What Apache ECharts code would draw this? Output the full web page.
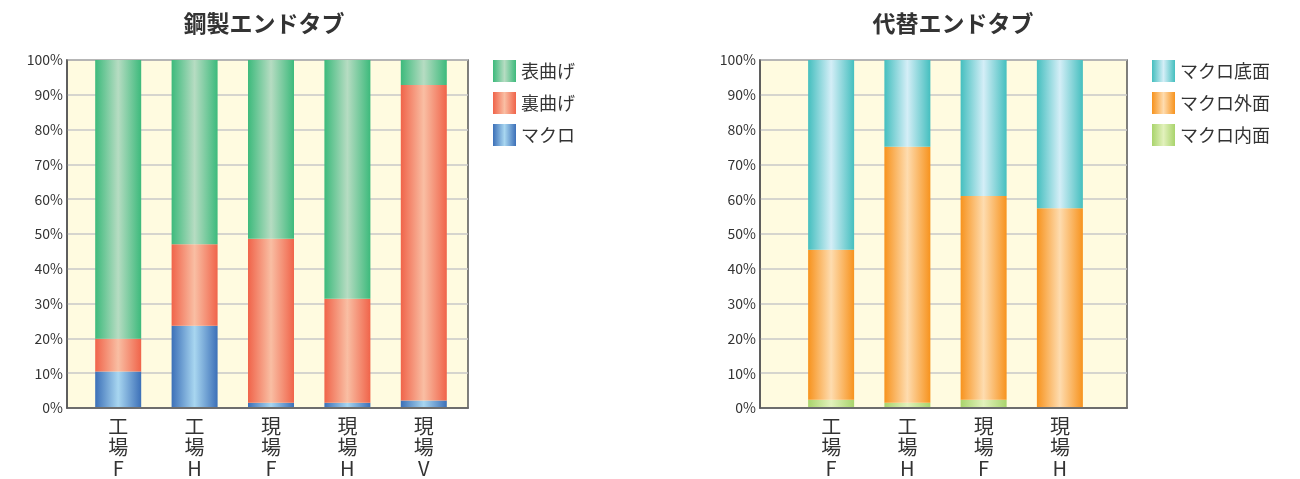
<!DOCTYPE html>
<html><head><meta charset="utf-8">
<script src="https://cdn.jsdelivr.net/npm/echarts@6/dist/echarts.min.js"></script>
<style>html,body{margin:0;padding:0;background:#fff}#c{width:1300px;height:479px}</style>
</head><body><div id="c"></div>
<script>
const leftTitle = '鋼製エンドタブ';
const rightTitle = '代替エンドタブ';
const leftCats = ['工場F','工場H','現場F','現場H','現場V'];
const rightCats = ['工場F','工場H','現場F','現場H'];
const leftNames = ['表曲げ','裏曲げ','マクロ'];
const rightNames = ['マクロ底面','マクロ外面','マクロ内面'];
// left stack (bottom -> top): マクロ, 裏曲げ, 表曲げ
const macro = [10.2, 23.4, 1.2, 1.2, 1.9];
const uraMage = [9.5, 23.5, 47.3, 30.0, 90.9];
const omoteMage = [80.3, 53.1, 51.5, 68.8, 7.2];
// right stack (bottom -> top): 内面, 外面, 底面
const naimen = [2.1, 1.2, 2.1, 0];
const gaimen = [43.2, 73.8, 58.7, 57.3];
const teimen = [54.7, 25.0, 39.2, 42.7];

function grad(edge, mid){
  return {type:'linear',x:0,y:0,x2:1,y2:0,colorStops:[
    {offset:0,color:edge},{offset:0.5,color:mid},{offset:1,color:edge}]};
}
const C = {
  green: grad('#3dba7c','#b6dcc2'),
  red: grad('#f0644a','#f9bea3'),
  blue: grad('#3c70b8','#a8d6f0'),
  teal: grad('#45bfbf','#d4eef7'),
  orange: grad('#f7931e','#fedcaf'),
  lgreen: grad('#a9d46c','#e2f1bc')
};
const font = '"Noto Sans CJK JP","Noto Sans",sans-serif';
const catLabel = v => v.split('').join('\n');

// background grids (0,1) hold frame + y axis; bar grids (2,3) hold bars + category labels
function yAxisBg(idx){
  return {gridIndex:idx,type:'value',min:0,max:100,interval:10,
    axisLabel:{formatter:v=>v+'%',fontSize:14,color:'#333',margin:4,fontFamily:font},
    axisLine:{show:true,lineStyle:{color:'#555',width:1.5}},axisTick:{show:false},
    splitLine:{lineStyle:{color:'#c8c8c8',width:1.5}}};
}
function yAxisBar(idx){
  return {gridIndex:idx,type:'value',min:0,max:100,interval:10,show:false,splitLine:{show:false}};
}
function xAxisBg(idx){
  return {gridIndex:idx,type:'value',min:0,max:1,
    axisLabel:{show:false},axisTick:{show:false},splitLine:{show:false},
    axisLine:{show:true,lineStyle:{color:'#555',width:1.5}}};
}
function xAxisBar(idx,cats){
  return {gridIndex:idx,type:'category',data:cats,
    axisLabel:{formatter:catLabel,fontSize:20,lineHeight:21,color:'#333',margin:9,fontFamily:font,interval:0},
    axisLine:{show:false},axisTick:{show:false}};
}
function bar(name,data,color,ax,stack){
  return {name,type:'bar',stack,data,xAxisIndex:ax,yAxisIndex:ax,barWidth:46,
    itemStyle:{color},emphasis:{disabled:true}};
}
const chart = echarts.init(document.getElementById('c'));
chart.setOption({
  animation:false,
  textStyle:{fontFamily:font},
  title:[
    {text:leftTitle,left:259,top:7,textAlign:'center',textStyle:{fontSize:23,fontWeight:'bold',color:'#333',fontFamily:font}},
    {text:rightTitle,left:948,top:7,textAlign:'center',textStyle:{fontSize:23,fontWeight:'bold',color:'#333',fontFamily:font}}
  ],
  grid:[
    {left:67,top:60,width:401,height:348,show:true,backgroundColor:'#fffbe0',borderColor:'#555',borderWidth:1.5},
    {left:760,top:60,width:367,height:348,show:true,backgroundColor:'#fffbe0',borderColor:'#555',borderWidth:1.5},
    {left:80,top:60,width:382,height:348},
    {left:793,top:60,width:305,height:348}
  ],
  legend:[
    {data:leftNames,orient:'vertical',left:488,top:55,itemWidth:23,itemHeight:22,itemGap:10,
      textStyle:{fontSize:18,color:'#333',fontFamily:font},icon:'rect'},
    {data:rightNames,orient:'vertical',left:1147,top:55,itemWidth:23,itemHeight:22,itemGap:10,
      textStyle:{fontSize:18,color:'#333',fontFamily:font},icon:'rect'}
  ],
  xAxis:[xAxisBg(0),xAxisBg(1),xAxisBar(2,leftCats),xAxisBar(3,rightCats)],
  yAxis:[yAxisBg(0),yAxisBg(1),yAxisBar(2),yAxisBar(3)],
  series:[
    bar(leftNames[2],macro,C.blue,2,'a'),
    bar(leftNames[1],uraMage,C.red,2,'a'),
    bar(leftNames[0],omoteMage,C.green,2,'a'),
    bar(rightNames[2],naimen,C.lgreen,3,'b'),
    bar(rightNames[1],gaimen,C.orange,3,'b'),
    bar(rightNames[0],teimen,C.teal,3,'b')
  ]
});
</script></body></html>
